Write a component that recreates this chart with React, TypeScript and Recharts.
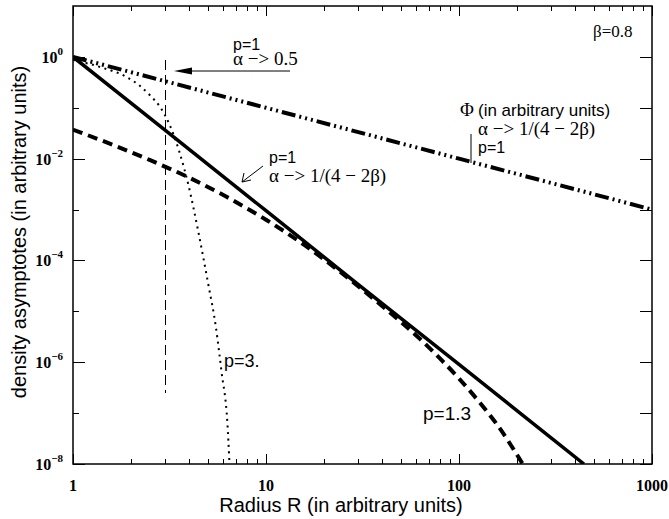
import React from 'react';
import { LineChart, Line, XAxis, YAxis, ReferenceLine } from 'recharts';

// radius values (arbitrary units) and densities
const solidR = [1, 3, 10, 30, 100, 444];
const solidY = [1, 0.0363, 9.5e-4, 3.4e-5, 9.1e-7, 1e-8];

const dashedR = [1, 1.585, 2.512, 3.981, 6.31, 10, 15.85, 25.12, 39.81, 63.1, 79.4, 100, 125.9, 158.5, 213.8];
const dashedY = [0.0372, 0.0191, 0.00933, 0.00427, 0.00174, 6.31e-4, 2.0e-4, 5.37e-5, 1.29e-5, 2.82e-6, 1.2e-6, 4.79e-7, 1.74e-7, 5.75e-8, 1e-8];

const dottedR = [1, 1.413, 1.905, 2.239, 2.512, 2.818, 3.162, 3.548, 3.981, 4.467, 5.012, 5.495, 5.888, 6.31, 6.607];
const dottedY = [0.871, 0.617, 0.398, 0.263, 0.174, 0.105, 0.0468, 0.0141, 0.00282, 3.55e-4, 3.55e-5, 5.0e-6, 6.3e-7, 6.3e-8, 1.58e-9];

const phiR = [1, 10, 100, 1000];
const phiY = [1, 0.1, 0.01, 0.001];

const xTicks = [1, 2, 3, 4, 5, 6, 7, 8, 9, 10, 20, 30, 40, 50, 60, 70, 80, 90, 100, 200, 300, 400, 500, 600, 700, 800, 900, 1000];
const xLabels = [1, 10, 100, 1000];
const yTicks = [1e-8, 1e-7, 1e-6, 1e-5, 1e-4, 1e-3, 1e-2, 1e-1, 1];

const X_MIN = 1;
const X_MAX = 1000;
const Y_MIN = 1e-8;
const Y_MAX = 10;

const cutR = 3;
const cutTop = 0.87;
const cutBottom = 2.5e-7;

const zip = (r: number[], y: number[]) => r.map((v, i) => ({ r: v, y: y[i] }));

const SANS = '"Liberation Sans", Arial, sans-serif';
const SERIF = '"Liberation Serif", "Times New Roman", serif';

// plot box in page pixels (matches the chart margins below)
const W = 669;
const H = 519;
const BOX = { left: 73, right: 652, top: 6, bottom: 464 };

const isDecade = (v: number) => xLabels.includes(v);
const yExp = (v: number) => Math.round(Math.log10(v));

const px = (v: number) =>
  BOX.left + ((Math.log10(v) - Math.log10(X_MIN)) / (Math.log10(X_MAX) - Math.log10(X_MIN))) * (BOX.right - BOX.left);
const py = (v: number) =>
  BOX.bottom - ((Math.log10(v) - Math.log10(Y_MIN)) / (Math.log10(Y_MAX) - Math.log10(Y_MIN))) * (BOX.bottom - BOX.top);

function BottomTick(props: any) {
  const { x, y, payload } = props;
  const v = payload.value;
  if (!isDecade(v)) return <g />;
  return (
    <text x={x} y={y + 27} textAnchor="middle" fontFamily={SERIF} fontWeight="bold" fontSize={16} fill="#000">
      {v}
    </text>
  );
}

function LeftTick(props: any) {
  const { x, y, payload } = props;
  const exp = yExp(payload.value);
  if (exp % 2 !== 0) return <g />;
  return (
    <text x={x - 10} y={y + 6} textAnchor="end" fontFamily={SERIF} fontWeight="bold" fontSize={16} fill="#000">
      10
      <tspan fontSize={11} dy={-8}>
        {exp === 0 ? '0' : '\u2212' + Math.abs(exp)}
      </tspan>
    </text>
  );
}

// frame with inward ticks on all four sides
function Frame() {
  return (
    <g stroke="#000" fill="none">
      <rect
        x={BOX.left}
        y={BOX.top}
        width={BOX.right - BOX.left}
        height={BOX.bottom - BOX.top}
        strokeWidth={1.5}
      />
      {xTicks.map((v) => {
        const x = Math.round(px(v)) + 0.5;
        const len = isDecade(v) ? 10 : 5;
        return (
          <g key={`x${v}`} strokeWidth={1}>
            <line x1={x} x2={x} y1={BOX.bottom} y2={BOX.bottom - len} />
            <line x1={x} x2={x} y1={BOX.top} y2={BOX.top + len} />
          </g>
        );
      })}
      {yTicks.map((v) => {
        const y = Math.round(py(v)) + 0.5;
        return (
          <g key={`y${v}`} strokeWidth={1}>
            <line x1={BOX.left} x2={BOX.left + (yExp(v) % 2 === 0 ? 12 : 6)} y1={y} y2={y} />
            <line x1={BOX.right} x2={BOX.right - 12} y1={y} y2={y} />
          </g>
        );
      })}
    </g>
  );
}

function Annotations() {
  const sans = { fontFamily: SANS, fontSize: 16, fill: '#000' };
  const serif = { fontFamily: SERIF, fontSize: 19, fill: '#000' };
  return (
    <svg width={W} height={H} style={{ position: 'absolute', left: 0, top: 0, pointerEvents: 'none' }}>
      <Frame />

      {/* top arrow */}
      <line x1={188} x2={290} y1={71} y2={71} stroke="#000" strokeWidth={1} />
      <polygon points="174,71 192,67.5 192,74.5" fill="#000" />
      <text x={233} y={50} {...sans}>p=1</text>
      <text x={233} y={65} {...serif}>α −&gt; 0.5</text>

      {/* arrow to solid line */}
      <line x1={263} y1={166} x2={242} y2={182} stroke="#000" strokeWidth={1} />
      <polyline points="244,173 242,182 251,180" fill="none" stroke="#000" strokeWidth={1} />
      <text x={269} y={163} {...sans}>p=1</text>
      <text x={269} y={182} {...serif}>α −&gt; 1/(4 − 2β)</text>

      {/* Phi annotation */}
      <line x1={471} x2={471} y1={134} y2={163} stroke="#000" strokeWidth={1} />
      <text x={460} y={116} {...serif}>Φ</text>
      <text x={478} y={116} fontFamily={SANS} fontSize={17} fill="#000">(in arbitrary units)</text>
      <text x={478} y={135} {...serif}>α −&gt; 1/(4 − 2β)</text>
      <text x={478} y={153} {...sans}>p=1</text>

      <text x={593} y={37} fontFamily={SERIF} fontSize={17} fill="#000">β=0.8</text>
      <text x={224} y={367} fontFamily={SANS} fontSize={18} fill="#000">p=3.</text>
      <text x={423} y={420} fontFamily={SANS} fontSize={19} fill="#000">p=1.3</text>

      {/* axis titles */}
      <text x={341} y={512} textAnchor="middle" fontFamily={SANS} fontSize={20} fill="#000">
        Radius R (in arbitrary units)
      </text>
      <text
        x={0}
        y={0}
        transform="translate(26,232) rotate(-90)"
        textAnchor="middle"
        fontFamily={SANS}
        fontSize={20}
        fill="#000"
      >
        density asymptotes (in arbitrary units)
      </text>
    </svg>
  );
}

export default function App() {
  return (
    <div style={{ position: 'absolute', left: 0, top: 0, width: W, height: H, background: '#fff' }}>
      <LineChart
        width={W}
        height={H}
        margin={{ top: BOX.top, right: W - BOX.right, bottom: 0, left: 0 }}
      >
        <XAxis
          xAxisId="b"
          dataKey="r"
          type="number"
          scale="log"
          domain={[X_MIN, X_MAX]}
          ticks={xTicks}
          interval={0}
          tick={<BottomTick />}
          tickLine={false}
          tickSize={0.001}
          tickMargin={0}
          height={H - BOX.bottom}
          axisLine={false}
          allowDataOverflow
        />
        <YAxis
          yAxisId="l"
          type="number"
          scale="log"
          domain={[Y_MIN, Y_MAX]}
          ticks={yTicks}
          interval={0}
          tick={<LeftTick />}
          tickLine={false}
          tickSize={0.001}
          tickMargin={0}
          width={BOX.left}
          axisLine={false}
          allowDataOverflow
        />
        <ReferenceLine
          xAxisId="b"
          yAxisId="l"
          segment={[
            { x: cutR, y: cutTop },
            { x: cutR, y: cutBottom },
          ]}
          stroke="#000"
          strokeWidth={1}
          strokeDasharray="10 5"
          shapeRendering="crispEdges"
        />
        <Line
          xAxisId="b"
          yAxisId="l"
          data={zip(phiR, phiY)}
          dataKey="y"
          type="linear"
          dot={false}
          stroke="#000"
          strokeWidth={4}
          strokeDasharray="14 4 2 4 2 4 2 4"
          isAnimationActive={false}
        />
        <Line
          xAxisId="b"
          yAxisId="l"
          data={zip(dottedR, dottedY)}
          dataKey="y"
          type="monotone"
          dot={false}
          stroke="#000"
          strokeWidth={2}
          strokeDasharray="2 4.5"
          isAnimationActive={false}
        />
        <Line
          xAxisId="b"
          yAxisId="l"
          data={zip(dashedR, dashedY)}
          dataKey="y"
          type="monotone"
          dot={false}
          stroke="#000"
          strokeWidth={4}
          strokeDasharray="10 6"
          isAnimationActive={false}
        />
        <Line
          xAxisId="b"
          yAxisId="l"
          data={zip(solidR, solidY)}
          dataKey="y"
          type="linear"
          dot={false}
          stroke="#000"
          strokeWidth={3.5}
          isAnimationActive={false}
        />
      </LineChart>
      <Annotations />
    </div>
  );
}
